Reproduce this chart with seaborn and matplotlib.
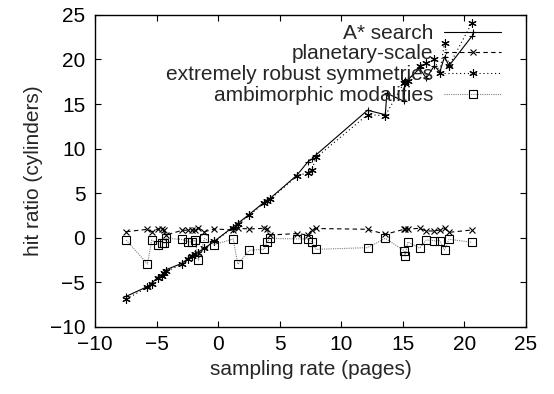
import seaborn as sns
import matplotlib
matplotlib.use('Agg')
import matplotlib.pyplot as plt

# Data
x_vals = [-7.47, -5.74, -5.39, -4.85, -4.52, -4.39, -4.22, -2.95, -2.41, -2.14,
          -1.87, -1.6, -1.11, -0.3, 1.22, 1.6, 2.52, 3.76, 3.95, 4.22,
          6.39, 7.28, 7.6, 7.96, 12.13, 13.57, 15.1, 15.17, 15.4, 16.36,
          16.9, 17.55, 18.0, 18.38, 18.75, 20.6]

astar_x = [-7.47, -5.74, -5.39, -4.85, -4.52, -4.39, -4.22, -2.95, -2.41, -2.14,
           -1.87, -1.6, -1.11, -0.3, 1.22, 1.6, 2.52, 3.76, 3.95, 4.22,
           6.39, 7.28, 7.6, 7.96, 12.13, 13.57, 13.7, 15.1, 15.17, 15.4,
           16.36, 16.9, 17.55, 18.0, 18.38, 18.75, 20.6]
astar_y = [-6.6, -5.5, -5.1, -4.4, -4.2, -3.9, -3.6, -2.9, -2.3, -2.0,
           -1.8, -1.6, -1.2, -0.4, 1.2, 1.6, 2.6, 4.0, 4.2, 4.4,
           7.0, 8.5, 8.8, 9.3, 14.3, 13.8, 16.2, 15.3, 17.7, 17.7,
           19.0, 17.9, 19.3, 18.6, 20.3, 19.3, 22.6]

planetary = [0.66, 0.93, 0.66, 1.0, 0.93, 0.85, 0.3, 0.8, 0.85, 0.85,
             0.85, 1.1, 0.66, 0.97, 0.85, 1.04, 0.97, 1.04, 1.0, 0.29,
             0.45, 0.29, 0.85, 1.02, 0.93, 0.37, 0.93, 0.95, 0.95, 1.04,
             0.74, 0.74, 0.85, 1.04, 0.59, 0.85]

robust = [-6.9, -5.6, -5.2, -4.5, -4.3, -4.0, -3.8, -3.0, -2.4, -2.1,
          -1.8, -1.7, -1.2, -0.4, 1.1, 1.5, 2.5, 3.9, 4.1, 4.3,
          6.9, 7.3, 7.6, 9.0, 13.8, 13.7, 17.4, 17.5, 17.6, 19.3,
          19.6, 20.0, 18.5, 21.9, 19.3, 24.1]

ambimorphic = [-0.27, -2.97, -0.27, -0.83, -0.57, -0.6, -0.08, -0.2, -0.45, -0.5,
               -0.27, -2.55, -0.1, -0.78, -0.16, -3.0, -1.43, -1.3, -0.53, -0.1,
               -0.14, -0.16, -0.46, -1.32, -1.13, -0.08, -1.47, -2.07, -0.49, -1.2,
               -0.27, -0.35, -0.35, -1.39, -0.19, -0.53]

labels = ['A* search', 'planetary-scale', 'extremely robust symmetries', 'ambimorphic modalities']

sns.set_style('ticks')
plt.rcParams['font.family'] = ['Liberation Sans', 'DejaVu Sans']
plt.rcParams['font.size'] = 15

fig = plt.figure(figsize=(5.54, 3.94), dpi=100)
ax = fig.add_axes([0.1715, 0.171, 0.778, 0.791])

sns.lineplot(x=astar_x, y=astar_y, ax=ax, sort=False, estimator=None,
             color='black', linestyle='-', linewidth=0.8,
             marker='+', markersize=5, markeredgecolor='black', markeredgewidth=0.8,
             label=labels[0])
sns.lineplot(x=x_vals, y=planetary, ax=ax, sort=False, estimator=None,
             color='black', linestyle=(0, (4, 3)), linewidth=0.8,
             marker='x', markersize=5, markeredgecolor='black', markeredgewidth=0.8,
             label=labels[1])
sns.lineplot(x=x_vals, y=robust, ax=ax, sort=False, estimator=None,
             color='black', linestyle=(0, (1, 2.5)), linewidth=0.8,
             marker=(6, 2, 0), markersize=6, markeredgecolor='black', markeredgewidth=0.8,
             label=labels[2])
sns.lineplot(x=x_vals, y=ambimorphic, ax=ax, sort=False, estimator=None,
             color='#808080', linestyle=(0, (1, 1)), linewidth=0.8,
             marker='s', markersize=5.5, markerfacecolor='none',
             markeredgecolor='black', markeredgewidth=0.8, label=labels[3])

ax.set_xlim(-10, 25)
ax.set_ylim(-10, 25)
ax.set_xticks(range(-10, 26, 5))
ax.set_yticks(range(-10, 26, 5))
ax.tick_params(direction='in', length=4, width=0.8, top=True, right=True,
               labelsize=15, colors='black')
ax.tick_params(axis='x', pad=6)
ax.tick_params(axis='y', pad=7)
for s in ax.spines.values():
    s.set_linewidth(1.0)
    s.set_color('black')

ax.set_xlabel('sampling rate (pages)', fontsize=15, labelpad=4)
ax.set_ylabel('hit ratio (cylinders)', fontsize=15, labelpad=5)

ax.legend(loc='upper right', bbox_to_anchor=(0.951, 0.985), frameon=False,
          markerfirst=False, fontsize=15,
          handlelength=2.7, handletextpad=0.55, labelspacing=0.08,
          borderaxespad=0.0, borderpad=0.2)

fig.savefig('out.png', dpi=100)
